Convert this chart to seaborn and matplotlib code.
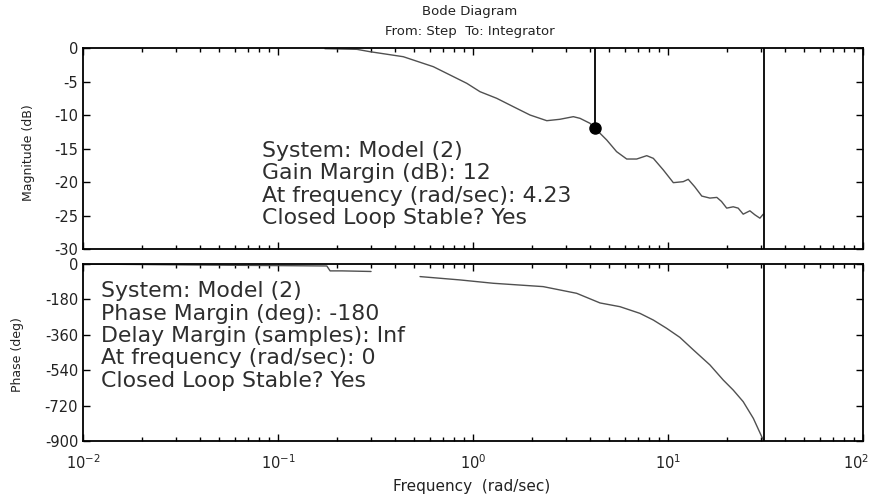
import numpy as np
import pandas as pd
import matplotlib
matplotlib.use("Agg")
import matplotlib.pyplot as plt
import matplotlib.transforms as mtransforms
import seaborn as sns

# ---- data ----
mag_freq = [0.174, 0.254, 0.296, 0.439, 0.626, 0.929, 1.086, 1.323, 1.61, 1.96, 2.39, 2.79, 3.27, 3.54,
            3.98, 4.23, 4.85, 5.45, 6.14, 6.91, 7.78, 8.41, 9.46, 10.65, 11.97, 12.7, 13.7, 14.9,
            16.4, 17.8, 18.8, 20.0, 21.6, 22.9, 24.3, 26.3, 27.9, 29.6, 30.8]
mag_db = [-0.1, -0.2, -0.55, -1.3, -2.79, -5.27, -6.52, -7.51, -8.76, -10.0, -10.85, -10.64, -10.25, -10.5,
          -11.24, -12.0, -13.73, -15.47, -16.57, -16.57, -16.07, -16.47, -18.2, -20.1, -19.95, -19.6, -20.7, -22.1,
          -22.4, -22.3, -22.9, -23.9, -23.7, -23.9, -24.8, -24.3, -24.9, -25.4, -24.8]

ph1_freq = [0.01, 0.038, 0.178, 0.185, 0.213, 0.30]
ph1_deg = [0, -5, -10, -35, -35, -38]
ph2_freq = [0.535, 0.858, 1.27, 2.29, 3.40, 4.48, 5.67, 7.18, 8.41, 9.84, 11.5, 13.5, 16.4,
            19.2, 21.6, 24.3, 27.4, 30.8]
ph2_deg = [-64, -81, -98, -115, -149, -198, -217, -251, -285, -327, -373, -437, -513,
           -590, -641, -700, -785, -895]

gm_freq = 4.23
gm_db = -12.0
nyq_freq = 31.0

mag_ticks = [0, -5, -10, -15, -20, -25, -30]
ph_ticks = [0, -180, -360, -540, -720, -900]
x_ticks = [0.01, 0.1, 1, 10, 100]
x_ticklabels = ["$10^{-2}$", "$10^{-1}$", "$10^{0}$", "$10^{1}$", "$10^{2}$"]

gm_text = ["System: Model (2)", "Gain Margin (dB): 12",
           "At frequency (rad/sec): 4.23", "Closed Loop Stable? Yes"]
pm_text = ["System: Model (2)", "Phase Margin (deg): -180",
           "Delay Margin (samples): Inf", "At frequency (rad/sec): 0",
           "Closed Loop Stable? Yes"]

sns.set_style("white")
plt.rcParams['font.family'] = ['DejaVu Sans']
plt.rcParams['mathtext.fontset'] = 'dejavusans'
plt.rcParams['axes.unicode_minus'] = False

fig = plt.figure(figsize=(8.7, 4.96), dpi=100)
W, H = 870.0, 496.0
ax1 = fig.add_axes([83 / W, 1 - 249 / H, (863 - 83) / W, (249 - 48) / H])
ax2 = fig.add_axes([83 / W, 1 - 441 / H, (863 - 83) / W, (441 - 264) / H])

curve_col = "#505050"
mag_df = pd.DataFrame({"f": mag_freq, "db": mag_db})
sns.lineplot(data=mag_df, x="f", y="db", ax=ax1, color=curve_col, lw=1.0, estimator=None, sort=False)
ax1.plot([gm_freq, gm_freq], [0, gm_db], color="black", lw=1.3)
ax1.plot([gm_freq], [gm_db], "o", color="black", ms=8)
ax1.axvline(nyq_freq, color="black", lw=1.3)

p1 = pd.DataFrame({"f": ph1_freq, "deg": ph1_deg})
p2 = pd.DataFrame({"f": ph2_freq, "deg": ph2_deg})
sns.lineplot(data=p1, x="f", y="deg", ax=ax2, color=curve_col, lw=1.0, estimator=None, sort=False)
sns.lineplot(data=p2, x="f", y="deg", ax=ax2, color=curve_col, lw=1.0, estimator=None, sort=False)
ax2.axvline(nyq_freq, color="black", lw=1.3)

for ax in (ax1, ax2):
    ax.set_xscale("log")
    ax.set_xlim(0.01, 100)
    ax.tick_params(which="both", direction="in", top=True, right=True, bottom=True, left=True,
                   labelsize=10.5, colors="black", labelcolor="#222222")
    ax.tick_params(which="major", length=5, width=1)
    ax.tick_params(which="minor", length=3, width=1)
    for s in ax.spines.values():
        s.set_color("black")
        s.set_linewidth(1.3)
    ax.set_xlabel("")
    ax.set_ylabel("")
    ax.grid(False)

ax1.set_ylim(-30, 0)
ax1.set_yticks(mag_ticks)
ax1.set_xticks(x_ticks)
ax1.set_xticklabels([])
ax2.set_ylim(-900, 0)
ax2.set_yticks(ph_ticks)
ax2.set_xticks(x_ticks)
ax2.set_xticklabels(x_ticklabels)
ax2.tick_params(axis="x", pad=9)
# keep the last (partly hidden in the reference) label inside the picture
last = ax2.get_xticklabels()[-1]
last.set_horizontalalignment("right")
last.set_transform(last.get_transform() + mtransforms.ScaledTranslation(6 / 100, 0, fig.dpi_scale_trans))

fig.text(29 / W, 1 - 153 / H, "Magnitude (dB)", rotation=90, ha="center", va="center",
         fontsize=9, color="#222222")
fig.text(18 / W, 1 - 355 / H, "Phase (deg)", rotation=90, ha="center", va="center",
         fontsize=9, color="#222222")
fig.text(472 / W, 1 - 486 / H, "Frequency  (rad/sec)", ha="center", va="center",
         fontsize=11, color="#222222")

fig.text(470 / W, 1 - 12 / H, "Bode Diagram", ha="center", va="center", fontsize=9.5, color="#222222")
fig.text(470 / W, 1 - 31 / H, "From: Step  To: Integrator", ha="center", va="center", fontsize=9.5, color="#222222")

for i, line in enumerate(gm_text):
    fig.text(262 / W, 1 - (157 + 22.5 * i) / H, line, ha="left", va="baseline",
             fontsize=15.8, color="#2e2e2e")
for i, line in enumerate(pm_text):
    fig.text(101 / W, 1 - (297 + 22.5 * i) / H, line, ha="left", va="baseline",
             fontsize=15.8, color="#2e2e2e")

fig.savefig("out.png", dpi=100)
